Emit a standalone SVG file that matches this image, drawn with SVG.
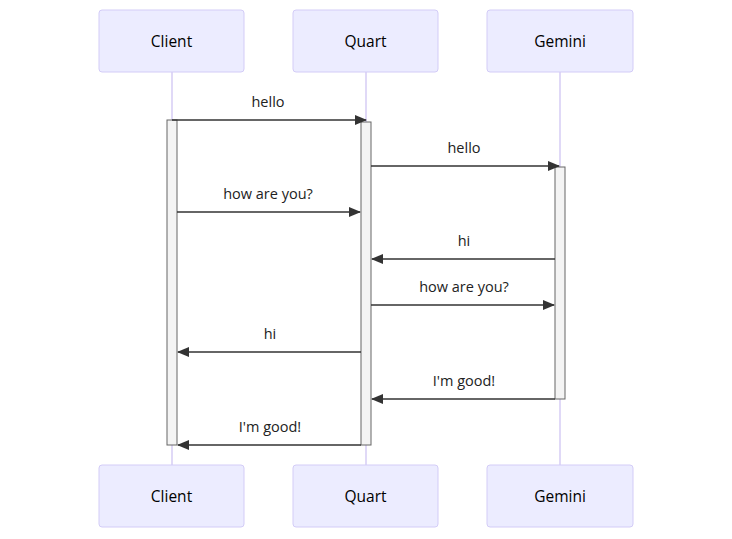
<svg xmlns="http://www.w3.org/2000/svg" width="732" height="539" viewBox="0 0 732 539">
<style>
.actor{fill:#ECECFF;stroke:#D3CCF7;stroke-width:1}
.atext{font-family:"Open Sans","Liberation Sans",sans-serif;font-size:15.5px;fill:#000;text-anchor:middle;dominant-baseline:central}
.life{stroke:#D6CCF4;stroke-width:1.5}
.act{fill:#F4F4F4;stroke:#666;stroke-width:1}
.msg{stroke:#333;stroke-width:1.5;fill:none;marker-end:url(#ah)}
.mtext{font-family:"Open Sans","Liberation Sans",sans-serif;font-size:14.5px;fill:#222;text-anchor:middle}
</style>
<defs>
<marker id="ah" viewBox="0 0 12 10" refX="11" refY="5" markerWidth="12" markerHeight="10" markerUnits="userSpaceOnUse" orient="auto">
<path d="M0,0 L12,5 L0,10 z" fill="#333"/>
</marker>
</defs>
<g id="lifelines">
<line class="life" x1="172" y1="72" x2="172" y2="465"/>
<line class="life" x1="366" y1="72" x2="366" y2="465"/>
<line class="life" x1="560" y1="72" x2="560" y2="465"/>
</g>
<g id="client-top"><rect class="actor" x="99" y="10" width="145" height="62" rx="3"/><text class="atext" x="171.5" y="41">Client</text></g>
<g id="quart-top"><rect class="actor" x="293" y="10" width="145" height="62" rx="3"/><text class="atext" x="365.5" y="41">Quart</text></g>
<g id="gemini-top"><rect class="actor" x="487" y="10" width="146" height="62" rx="3"/><text class="atext" x="560" y="41">Gemini</text></g>
<g id="client-bottom"><rect class="actor" x="99" y="465" width="145" height="62" rx="3"/><text class="atext" x="171.5" y="496">Client</text></g>
<g id="quart-bottom"><rect class="actor" x="293" y="465" width="145" height="62" rx="3"/><text class="atext" x="365.5" y="496">Quart</text></g>
<g id="gemini-bottom"><rect class="actor" x="487" y="465" width="146" height="62" rx="3"/><text class="atext" x="560" y="496">Gemini</text></g>
<g id="activations">
<rect class="act" x="167" y="120" width="10" height="325"/>
<rect class="act" x="361" y="122" width="10" height="323"/>
<rect class="act" x="555" y="167" width="10" height="232"/>
</g>
<g id="connectors">
<line class="msg" x1="172" y1="120" x2="366" y2="120"/>
<text class="mtext" x="268" y="107">hello</text>
<line class="msg" x1="371" y1="166" x2="559" y2="166"/>
<text class="mtext" x="464" y="153">hello</text>
<line class="msg" x1="177" y1="212" x2="360" y2="212"/>
<text class="mtext" x="268" y="199">how are you?</text>
<line class="msg" x1="555" y1="259" x2="372" y2="259"/>
<text class="mtext" x="464" y="246">hi</text>
<line class="msg" x1="371" y1="305" x2="554" y2="305"/>
<text class="mtext" x="464" y="292">how are you?</text>
<line class="msg" x1="361" y1="352" x2="178" y2="352"/>
<text class="mtext" x="270" y="339">hi</text>
<line class="msg" x1="555" y1="399" x2="372" y2="399"/>
<text class="mtext" x="464" y="386">I'm good!</text>
<line class="msg" x1="361" y1="445" x2="178" y2="445"/>
<text class="mtext" x="270" y="432">I'm good!</text>
</g>
</svg>
